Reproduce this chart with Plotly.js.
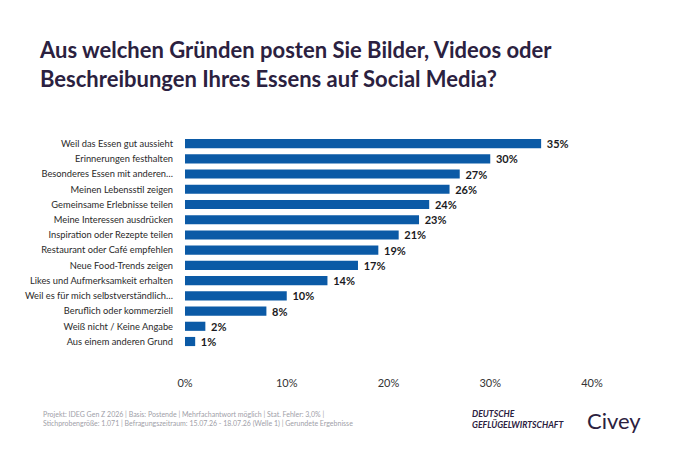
<!DOCTYPE html>
<html><head><meta charset="utf-8">
<script src="https://cdn.plot.ly/plotly-3.0.1.min.js"></script>
<style>html,body{margin:0;padding:0;background:#fff}#chart{width:676px;height:450px}</style>
</head><body><div id="chart"></div>
<script>
const categories = [
  "Weil das Essen gut aussieht",
  "Erinnerungen festhalten",
  "Besonderes Essen mit anderen…",
  "Meinen Lebensstil zeigen",
  "Gemeinsame Erlebnisse teilen",
  "Meine Interessen ausdrücken",
  "Inspiration oder Rezepte teilen",
  "Restaurant oder Café empfehlen",
  "Neue Food-Trends zeigen",
  "Likes und Aufmerksamkeit erhalten",
  "Weil es für mich selbstverständlich…",
  "Beruflich oder kommerziell",
  "Weiß nicht / Keine Angabe",
  "Aus einem anderen Grund"
];
const values = [35, 30, 27, 26, 24, 23, 21, 19, 17, 14, 10, 8, 2, 1];
const xTicks = [0, 10, 20, 30, 40];
const xTickLabels = ["0%", "10%", "20%", "30%", "40%"];

const W = 676, H = 450;
const L = 185, R = 592, T = 136, B = 375;
const px = p => (p - L) / (R - L);
const py = q => (B - q) / (B - T);
const FONT = 'Lato, sans-serif';

const trace = {
  type: 'bar',
  orientation: 'h',
  x: values,
  y: categories,
  marker: {color: '#0b5aa6'},
  width: 0.6,
  text: values.map(v => '\u00a0' + v + '%'),
  textposition: 'outside',
  constraintext: 'none',
  textfont: {family: FONT, size: 11, color: '#1a1a22', weight: 'bold'},
  cliponaxis: false,
  hoverinfo: 'skip'
};

const layout = {
  width: W, height: H,
  margin: {l: L, r: W - R, t: T, b: H - B, pad: 0},
  paper_bgcolor: '#ffffff',
  plot_bgcolor: '#ffffff',
  showlegend: false,
  font: {family: FONT, color: '#333333'},
  title: {
    text: 'Aus welchen Gründen posten Sie Bilder, Videos oder<br>Beschreibungen Ihres Essens auf Social Media?',
    x: 40 / W, xanchor: 'left', xref: 'container',
    y: 1 - 58 / H, yanchor: 'top', yref: 'container',
    font: {family: FONT, size: 22, color: '#2b2140', weight: 'bold'}
  },
  xaxis: {
    range: [0, 40],
    tickvals: xTicks,
    ticktext: xTickLabels,
    showgrid: false, zeroline: false, showline: false,
    ticks: '',
    tickfont: {family: FONT, size: 11, color: '#333333'},
    fixedrange: true
  },
  yaxis: {
    type: 'category',
    range: [15.2, -0.5],
    showgrid: false, zeroline: false, showline: false,
    ticks: '', ticklabelstandoff: 11,
    tickfont: {family: FONT, size: 9.3, color: '#2a2a2a'},
    fixedrange: true
  },
  annotations: [
    {
      text: 'Projekt: IDEG Gen Z 2026 | Basis: Postende | Mehrfachantwort möglich | Stat. Fehler: 3,0% |<br>Stichprobengröße: 1.071 | Befragungszeitraum: 15.07.26 - 18.07.26 (Welle 1) | Gerundete Ergebnisse',
      xref: 'paper', yref: 'paper', x: px(41), y: py(419), xanchor: 'left', yanchor: 'middle',
      align: 'left', showarrow: false,
      font: {family: FONT, size: 7, color: '#a0a0a8'}
    },
    {
      text: '<b><i>DEUTSCHE<br>GEFLÜGELWIRTSCHAFT</i></b>',
      xref: 'paper', yref: 'paper', x: px(470), y: py(419), xanchor: 'left', yanchor: 'middle',
      align: 'left', showarrow: false,
      font: {family: FONT, size: 8.7, color: '#2b2140'}
    },
    {
      text: 'Civey',
      xref: 'paper', yref: 'paper', x: px(585), y: py(420), xanchor: 'left', yanchor: 'middle',
      showarrow: false,
      font: {family: FONT, size: 22, color: '#2b2140'}
    }
  ]
};

Plotly.newPlot('chart', [trace], layout, {displayModeBar: false, staticPlot: true});
</script>
</body></html>
